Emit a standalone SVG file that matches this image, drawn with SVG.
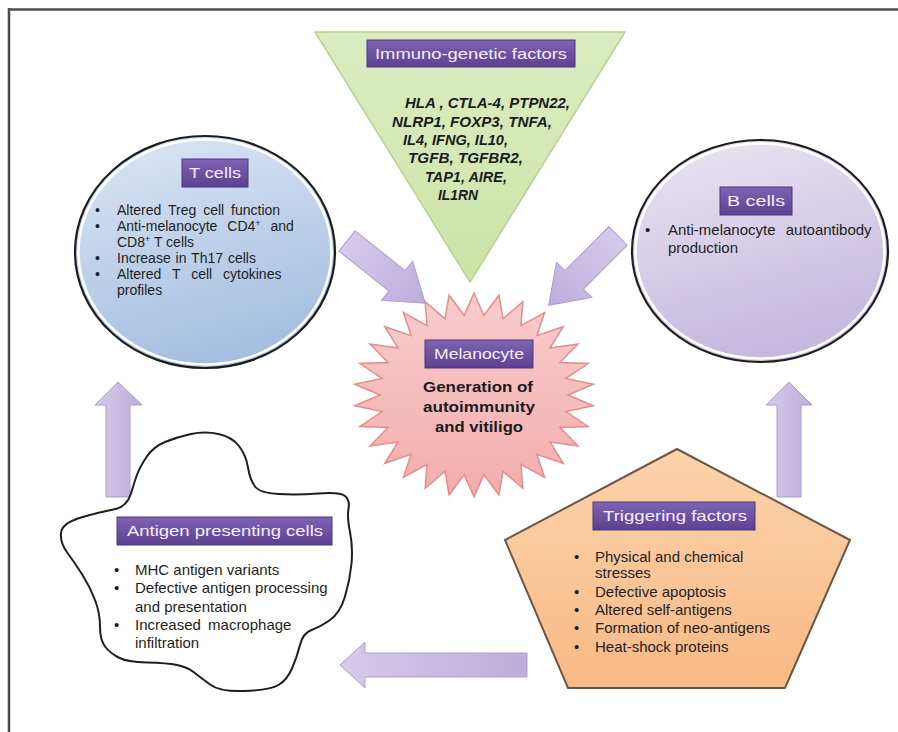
<svg xmlns="http://www.w3.org/2000/svg" width="898" height="732" viewBox="0 0 898 732">
<defs>
<linearGradient id="gT" x1="0" y1="0" x2="0.3" y2="1"><stop offset="0" stop-color="#dde7f4"/><stop offset="1" stop-color="#a6bfe1"/></linearGradient>
<linearGradient id="gB" x1="0" y1="0" x2="0.3" y2="1"><stop offset="0" stop-color="#ebe6f3"/><stop offset="1" stop-color="#c5b9de"/></linearGradient>
<linearGradient id="gG" x1="0" y1="0" x2="0" y2="1"><stop offset="0" stop-color="#dcecc2"/><stop offset="1" stop-color="#cde3a6"/></linearGradient>
<linearGradient id="gS" x1="0" y1="0" x2="0" y2="1"><stop offset="0" stop-color="#f8cccc"/><stop offset="1" stop-color="#f3adad"/></linearGradient>
<linearGradient id="gP" x1="0" y1="0" x2="0" y2="1"><stop offset="0" stop-color="#fcd3ab"/><stop offset="1" stop-color="#f8b985"/></linearGradient>
<linearGradient id="gL" x1="0" y1="0" x2="0" y2="1"><stop offset="0" stop-color="#7e63b4"/><stop offset="1" stop-color="#5c4191"/></linearGradient>
<linearGradient id="gA" x1="0" y1="0" x2="1" y2="0"><stop offset="0" stop-color="#d6cbea"/><stop offset="1" stop-color="#bcaddb"/></linearGradient>
</defs>
<style>
.lab{fill:url(#gL);stroke:#4d3680;stroke-width:1}
.labt{font-family:"Liberation Sans",Arial,sans-serif;font-size:15px;fill:#f4effd;text-anchor:middle}
.body{font-family:"Liberation Sans",Arial,sans-serif;font-size:15px;fill:#1e1e1e}
.tb{font-size:14px}
.gene{font-family:"Liberation Sans",Arial,sans-serif;font-size:14px;font-weight:bold;font-style:italic;fill:#1c1c1c}
.mel{font-family:"Liberation Sans",Arial,sans-serif;font-size:15px;font-weight:bold;fill:#1c1c1c;text-anchor:middle}
.arr{fill:url(#gA);stroke:#ad9dd0;stroke-width:1}
.ring{fill:none;stroke:#fff;stroke-width:2.5}
.edge{stroke:#1e1e1e;stroke-width:2.2}
</style>
<rect width="898" height="732" fill="#fff"/>
<g id="frame" fill="none" stroke="#4e4e4e" stroke-width="2.5">
<line x1="8" y1="9.5" x2="898" y2="9.5"/>
<line x1="9" y1="8" x2="9" y2="732"/>
</g>

<g id="immuno">
<polygon points="315,32 625,32 470,282" fill="url(#gG)" stroke="#b8d291" stroke-width="1.5"/>
<rect class="lab" x="367" y="40" width="208" height="27"/>
<text class="labt" x="471" y="59" textLength="192" lengthAdjust="spacingAndGlyphs">Immuno-genetic factors</text>
<text class="gene" x="405" y="108" textLength="165" lengthAdjust="spacingAndGlyphs">HLA , CTLA-4, PTPN22,</text>
<text class="gene" x="392" y="127" textLength="160" lengthAdjust="spacingAndGlyphs">NLRP1, FOXP3, TNFA,</text>
<text class="gene" x="403" y="145" textLength="105" lengthAdjust="spacingAndGlyphs">IL4, IFNG, IL10,</text>
<text class="gene" x="408" y="163" textLength="115" lengthAdjust="spacingAndGlyphs">TGFB, TGFBR2,</text>
<text class="gene" x="425" y="182" textLength="82" lengthAdjust="spacingAndGlyphs">TAP1, AIRE,</text>
<text class="gene" x="438" y="200" textLength="40" lengthAdjust="spacingAndGlyphs">IL1RN</text>
</g>

<g id="connectors">
<polygon class="arr" transform="translate(347,241) rotate(38.5)" points="0,-13 64,-13 64,-25 100,0 64,25 64,13 0,13"/>
<polygon class="arr" transform="translate(618,236) rotate(135)" points="0,-13 62,-13 62,-25 98,0 62,25 62,13 0,13"/>
<polygon class="arr" points="106,497 106,405 95,405 118,382 142,405 130,405 130,497"/>
<polygon class="arr" points="777,497 777,405 766,405 789,382 812,405 801,405 801,497"/>
<polygon class="arr" points="527,653 365,653 365,642 340,665 365,688 365,677 527,677"/>
</g>

<g id="tcells">
<ellipse cx="205" cy="252" rx="130" ry="116" fill="url(#gT)" class="edge"/>
<ellipse cx="205" cy="252" rx="126.5" ry="112.5" class="ring"/>
<rect class="lab" x="182" y="159" width="66" height="28"/>
<text class="labt" x="215" y="178" textLength="52" lengthAdjust="spacingAndGlyphs">T cells</text>
<g class="body tb">
<text x="95" y="215">•</text><text x="117" y="215" word-spacing="3">Altered Treg cell function</text>
<text x="95" y="231">•</text><text x="117" y="231" word-spacing="6">Anti-melanocyte CD4<tspan font-size="9" dy="-5">+</tspan><tspan dy="5"> and</tspan></text>
<text x="117" y="247">CD8<tspan font-size="9" dy="-5">+</tspan><tspan dy="5"> T cells</tspan></text>
<text x="95" y="263">•</text><text x="117" y="263" word-spacing="1">Increase in Th17 cells</text>
<text x="95" y="279">•</text><text x="117" y="279" word-spacing="7">Altered T cell cytokines</text>
<text x="117" y="295">profiles</text>
</g>
</g>

<g id="bcells">
<ellipse cx="760" cy="251" rx="128" ry="111" fill="url(#gB)" class="edge"/>
<ellipse cx="760" cy="251" rx="124.5" ry="107.5" class="ring"/>
<rect class="lab" x="720" y="187" width="72" height="28"/>
<text class="labt" x="756" y="206" textLength="58" lengthAdjust="spacingAndGlyphs">B cells</text>
<g class="body">
<text x="645" y="235">•</text><text x="668" y="235" word-spacing="6">Anti-melanocyte autoantibody</text>
<text x="668" y="253">production</text>
</g>
</g>

<g id="melanocyte">
<polygon fill="url(#gS)" stroke="#e58c8c" stroke-width="1.5" points="474,293 483.8,315.4 498.9,295.2 503,318.9 522.8,301.8 521,325.7 544.6,312.5 536.9,335.6 563.2,326.7 550,348 577.9,344 559.9,362.5 588.1,363.5 565.9,378.4 593.3,384.3 568,395 593.3,405.7 565.9,411.6 588.1,426.5 559.9,427.5 577.9,446 550,442 563.2,463.3 536.9,454.4 544.6,477.5 521,464.3 522.8,488.2 503,471.1 498.9,494.8 483.8,474.6 474,497 464.2,474.6 449.1,494.8 445,471.1 425.2,488.2 427,464.3 403.4,477.5 411.1,454.4 384.8,463.3 398,442 370.1,446 388.1,427.5 359.9,426.5 382.1,411.6 354.7,405.7 380,395 354.7,384.3 382.1,378.4 359.9,363.5 388.1,362.5 370.1,344 398,348 384.8,326.7 411.1,335.6 403.4,312.5 427,325.7 425.2,301.8 445,318.9 449.1,295.2 464.2,315.4"/>
<rect class="lab" x="425" y="340" width="108" height="28"/>
<text class="labt" x="479" y="359" textLength="90" lengthAdjust="spacingAndGlyphs">Melanocyte</text>
<text class="mel" x="478" y="392" textLength="110" lengthAdjust="spacingAndGlyphs">Generation of</text>
<text class="mel" x="479" y="412" textLength="112" lengthAdjust="spacingAndGlyphs">autoimmunity</text>
<text class="mel" x="479" y="432" textLength="88" lengthAdjust="spacingAndGlyphs">and vitiligo</text>
</g>

<g id="apc">
<path d="M61,533 Q62,523 81,517.5 Q100,512 113.5,509.5 Q127,507 131,493.5 Q135,480 137.5,473.5 Q140,467 146.5,457 Q153,447 165,442 Q177,437 191,434 Q205,431 218.5,434 Q232,437 239,446 Q246,455 248,467.5 Q250,480 255,486.5 Q260,493 278.5,494 Q297,495 318.5,493.5 Q340,492 345,496 Q350,500 348.5,508.5 Q347,517 350,532 Q353,547 351.5,563.5 Q350,580 345,596.5 Q340,613 330,620 Q320,627 311.5,630 Q303,633 300,645 Q297,657 292,668.5 Q287,680 278.5,685 Q270,690 245,691 Q220,692 210,684.5 Q200,677 193.5,672 Q187,667 177,665 Q167,663 147,662.5 Q127,662 118.5,657.5 Q110,653 105,646.5 Q100,640 100,626.5 Q100,613 95,600 Q90,587 82.5,575 Q75,563 67.5,553 Q60,543 61,533 Z" fill="#fff" stroke="#1e1e1e" stroke-width="2"/>
<rect class="lab" x="117" y="517" width="215" height="28"/>
<text class="labt" x="225" y="536" textLength="196" lengthAdjust="spacingAndGlyphs">Antigen presenting cells</text>
<g class="body">
<text x="114" y="575">•</text><text x="135" y="575">MHC antigen variants</text>
<text x="114" y="593">•</text><text x="135" y="593">Defective antigen processing</text>
<text x="135" y="612">and presentation</text>
<text x="114" y="630">•</text><text x="135" y="630" word-spacing="3">Increased macrophage</text>
<text x="135" y="648">infiltration</text>
</g>
</g>

<g id="triggering">
<polygon points="677,449 850,540 785,688 568,688 505,540" fill="url(#gP)" stroke="#6b5646" stroke-width="2"/>
<rect class="lab" x="593" y="502" width="162" height="28"/>
<text class="labt" x="675" y="521" textLength="144" lengthAdjust="spacingAndGlyphs">Triggering factors</text>
<g class="body">
<text x="574" y="562">•</text><text x="595" y="562">Physical and chemical</text>
<text x="595" y="578">stresses</text>
<text x="574" y="597">•</text><text x="595" y="597">Defective apoptosis</text>
<text x="574" y="615">•</text><text x="595" y="615">Altered self-antigens</text>
<text x="574" y="633">•</text><text x="595" y="633">Formation of neo-antigens</text>
<text x="574" y="652">•</text><text x="595" y="652">Heat-shock proteins</text>
</g>
</g>
</svg>
